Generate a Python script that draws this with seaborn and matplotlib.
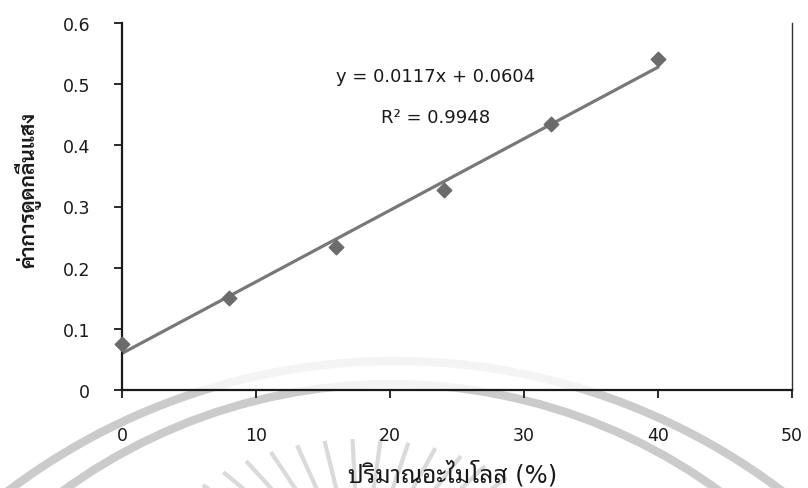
import numpy as np
import pandas as pd
import matplotlib
matplotlib.use("Agg")
import matplotlib.pyplot as plt
from matplotlib.patches import Circle
from matplotlib.ticker import FuncFormatter
import seaborn as sns

# values
amylose = [0, 8, 16, 24, 32, 40]
absorbance = [0.075, 0.151, 0.234, 0.327, 0.435, 0.541]
x_ticks = [0, 10, 20, 30, 40, 50]
y_ticks = [0, 0.1, 0.2, 0.3, 0.4, 0.5, 0.6]
equation = "y = 0.0117x + 0.0604"
r_squared = "R² = 0.9948"
x_label = "ปริมาณอะไมโลส (%)"
y_label = "ค่าการดูดกลืนแสง"

df = pd.DataFrame({"amylose": amylose, "absorbance": absorbance})

sns.set_theme(style="white")
plt.rcParams["font.family"] = ["DejaVu Sans", "Sarabun"]

W, H = 808, 489
fig = plt.figure(figsize=(W / 100, H / 100), dpi=100)

# faint logo watermark behind the chart (pixel coordinates)
bg = fig.add_axes([0, 0, 1, 1], zorder=0)
bg.set_xlim(0, W)
bg.set_ylim(H, 0)
bg.axis("off")
wm = "#cbcbcb"
bg.add_patch(Circle((395, 1003), 641, fill=False, ec=wm, lw=6))
bg.add_patch(Circle((391, 942), 557, fill=False, ec=wm, lw=6))
cx, cy = 360, 585
for ang in np.arange(32, 150, 7.5):
    a = np.deg2rad(ang)
    bg.plot([cx + 90 * np.cos(a), cx + 215 * np.cos(a)],
            [cy - 60 * np.sin(a), cy - 145 * np.sin(a)],
            color="#dadada", lw=3, solid_capstyle="butt")

# main chart
ax = fig.add_axes([122 / W, 1 - 391 / H, (792 - 122) / W, (391 - 24) / H], zorder=1)
ax.set_facecolor((1, 1, 1, 0.8))
sns.regplot(data=df, x="amylose", y="absorbance", ci=None, ax=ax, marker="D",
            scatter_kws={"s": 55, "color": "#6b6b6b", "alpha": 1, "zorder": 3,
                         "clip_on": False},
            line_kws={"color": "#787878", "lw": 2.3, "zorder": 2})

ax.set_xlim(0, 50)
ax.set_ylim(0, 0.6)
ax.set_xticks(x_ticks)
ax.set_yticks(y_ticks)
ax.yaxis.set_major_formatter(FuncFormatter(lambda v, _: "0" if v == 0 else f"{v:.1f}"))
ax.tick_params(axis="both", direction="out", length=6, width=1.3, colors="#1a1a1a",
               labelsize=12.5, labelcolor="#1a1a1a")
ax.tick_params(axis="y", pad=17, left=True)
ax.tick_params(axis="x", pad=20, bottom=True)

for side in ["left", "bottom"]:
    ax.spines[side].set_color("#1a1a1a")
    ax.spines[side].set_linewidth(1.6)
ax.spines["top"].set_visible(False)
ax.spines["right"].set_color("#333333")
ax.spines["right"].set_linewidth(1.0)

ax.text(23.4, 0.513, equation, ha="center", va="center", fontsize=13, color="#1a1a1a")
ax.text(23.4, 0.446, r_squared, ha="center", va="center", fontsize=13, color="#1a1a1a")

ax.set_xlabel(x_label, fontsize=17.5, color="#1a1a1a",
              family=["DejaVu Sans", "Noto Sans Thai Looped"])
ax.set_ylabel(y_label, fontsize=15, fontweight="bold", color="#1a1a1a")
ax.xaxis.set_label_coords((453 - 122) / 670, (391 - 474) / 367)
ax.xaxis.label.set_va("center")
ax.yaxis.set_label_coords((28 - 122) / 670, (391 - 190) / 367)
ax.yaxis.label.set_va("center")

plt.savefig("out.png", dpi=100)
plt.close()
